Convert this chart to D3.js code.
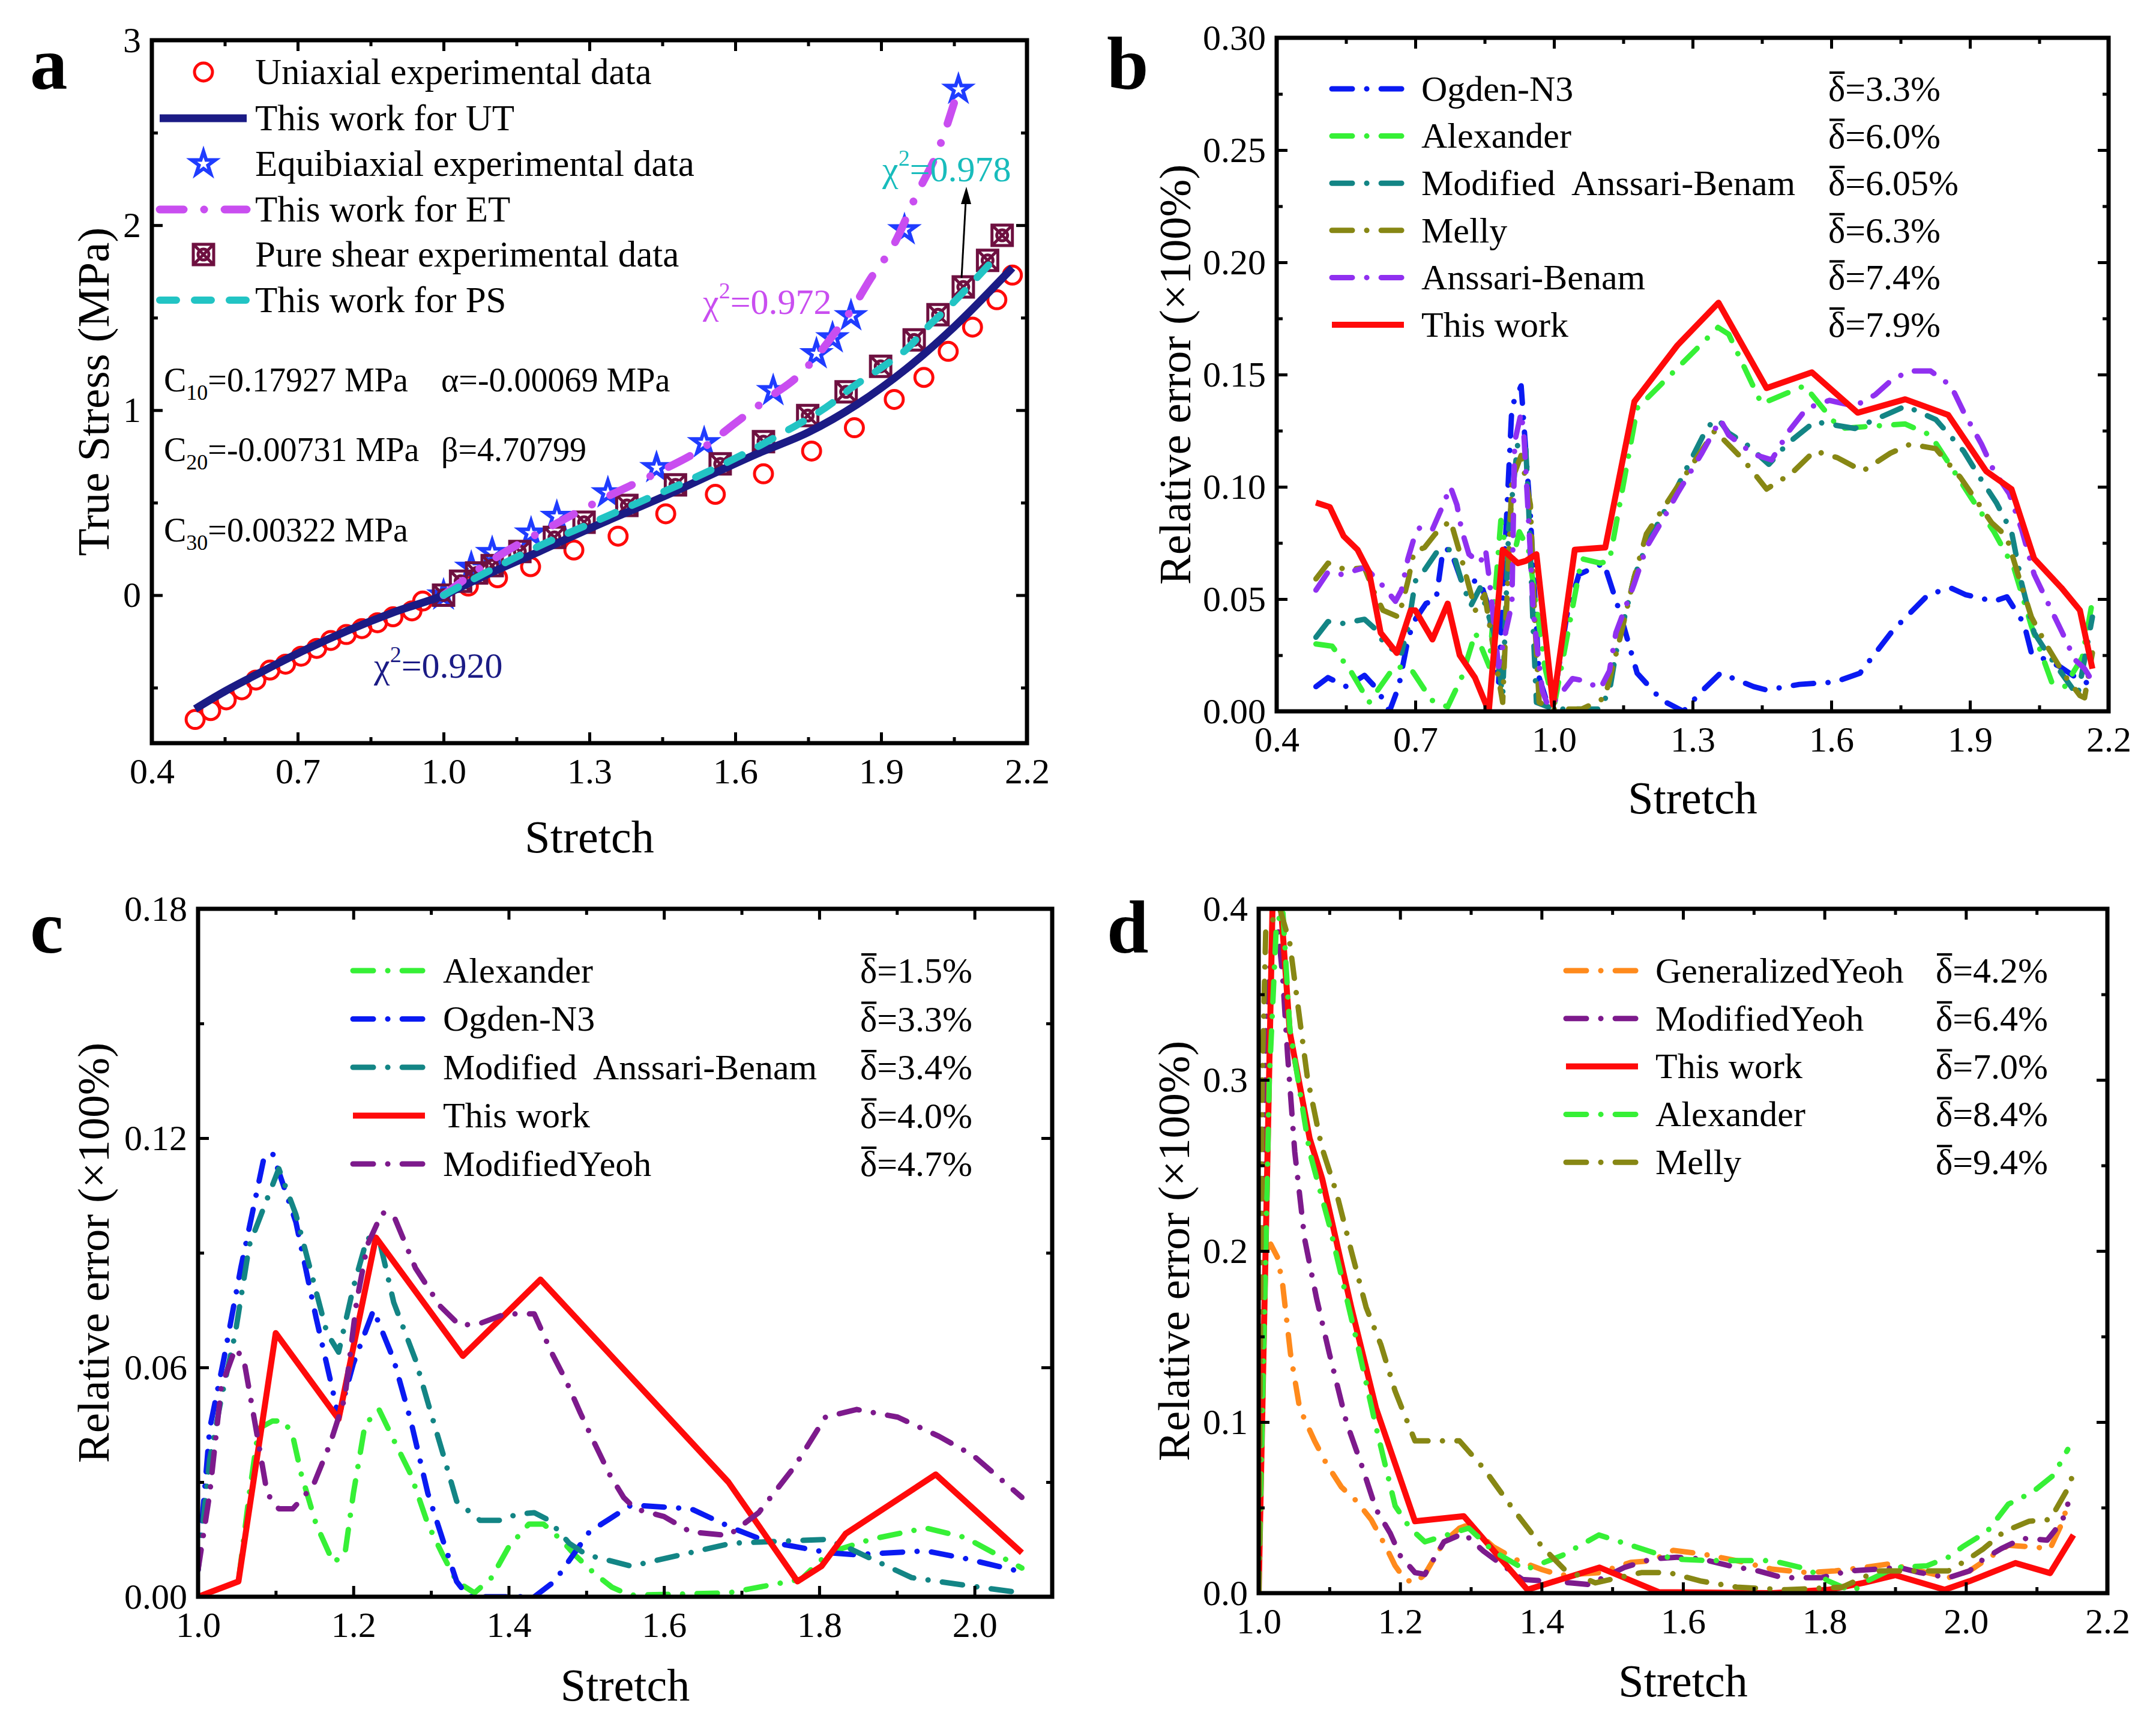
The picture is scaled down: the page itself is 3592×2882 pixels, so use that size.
<!DOCTYPE html>
<html>
<head>
<meta charset="utf-8">
<script src="https://cdn.jsdelivr.net/npm/d3@7"></script>
<style>
  body { margin: 0; background: #fff; }
  svg text { font-family: "Liberation Serif", "Times New Roman", serif; white-space: pre; }
</style>
</head>
<body>
<svg id="chart" width="3592" height="2882"></svg>
<script>
// ---------- panel a : stretch vs true stress (MPa)
const utExp = [[0.489,-0.672],[0.521,-0.624],[0.553,-0.566],[0.585,-0.512],[0.614,-0.459],[0.643,-0.405],[0.675,-0.373],[0.707,-0.330],[0.739,-0.288],[0.768,-0.245],[0.800,-0.213],[0.832,-0.181],[0.864,-0.149],[0.896,-0.117],[0.935,-0.085],[0.957,-0.032],[1.051,0.049],[1.111,0.094],[1.179,0.154],[1.268,0.244],[1.359,0.319],[1.457,0.44],[1.559,0.545],[1.658,0.656],[1.757,0.779],[1.845,0.905],[1.927,1.058],[1.988,1.177],[2.038,1.318],[2.088,1.449],[2.138,1.597],[2.170,1.73]];
const utFit = [[0.489,-0.615],[0.55,-0.52],[0.60,-0.45],[0.70,-0.315],[0.80,-0.195],[0.90,-0.09],[1.0,0.0],[1.08,0.10],[1.20,0.24],[1.30,0.36],[1.45,0.53],[1.65,0.77],[1.75,0.88],[1.85,1.03],[1.95,1.22],[2.05,1.45],[2.17,1.77]];
const etExp = [[1.0,0.0],[1.057,0.15],[1.10,0.23],[1.18,0.335],[1.233,0.425],[1.338,0.553],[1.438,0.689],[1.536,0.824],[1.678,1.105],[1.767,1.305],[1.800,1.391],[1.838,1.51],[1.948,1.975],[2.059,2.734]];
const etFit = [[1.0,0.0],[1.1,0.19],[1.22,0.37],[1.335,0.53],[1.438,0.66],[1.536,0.80],[1.60,0.93],[1.676,1.08],[1.723,1.17],[1.767,1.29],[1.804,1.415],[1.841,1.55],[1.878,1.71],[1.927,1.90],[1.972,2.16],[2.018,2.41],[2.05,2.66]];
const psExp = [[1.0,0.0],[1.035,0.075],[1.068,0.12],[1.10,0.16],[1.157,0.236],[1.228,0.312],[1.289,0.394],[1.377,0.485],[1.477,0.596],[1.569,0.71],[1.658,0.83],[1.749,0.971],[1.828,1.099],[1.899,1.237],[1.968,1.38],[2.017,1.516],[2.069,1.666],[2.119,1.81],[2.149,1.945]];
const psFit = [[1.0,0.0],[1.1,0.14],[1.2,0.27],[1.3,0.385],[1.4,0.50],[1.5,0.615],[1.6,0.74],[1.7,0.88],[1.8,1.04],[1.837,1.117],[1.894,1.218],[1.952,1.329],[2.001,1.464],[2.042,1.565],[2.083,1.677],[2.13,1.81]];
const aLegend = ['Uniaxial experimental data','This work for UT','Equibiaxial experimental data','This work for ET','Pure shear experimental data','This work for PS'];

// ---------- panel b : relative error, stretch 0.4 - 2.2
const bOgden = [[0.485,0.011],[0.511,0.015],[0.551,0.011],[0.59,0.016],[0.617,0.010],[0.644,0.0],[0.664,0.011],[0.684,0.032],[0.697,0.040],[0.723,0.048],[0.745,0.050],[0.76,0.072],[0.776,0.072],[0.80,0.058],[0.84,0.058],[0.856,0.048],[0.88,0.012],[0.909,0.136],[0.929,0.145],[0.949,0.087],[0.968,0.015],[0.985,0.004],[1.0,0.006],[1.028,0.043],[1.054,0.061],[1.108,0.066],[1.141,0.045],[1.18,0.017],[1.233,0.005],[1.28,0.0],[1.32,0.009],[1.36,0.017],[1.432,0.011],[1.46,0.0095],[1.531,0.012],[1.607,0.013],[1.662,0.017],[1.733,0.036],[1.81,0.052],[1.858,0.055],[1.89,0.052],[1.952,0.049],[1.98,0.051],[2.017,0.039],[2.033,0.026],[2.094,0.020],[2.13,0.015],[2.16,0.012],[2.177,0.012]];
const bAlexander = [[0.485,0.030],[0.52,0.029],[0.56,0.018],[0.60,0.004],[0.655,0.020],[0.69,0.019],[0.735,0.005],[0.77,0.002],[0.80,0.015],[0.83,0.035],[0.86,0.020],[0.885,0.085],[0.905,0.062],[0.925,0.080],[0.945,0.072],[0.98,0.020],[1.0,0.002],[1.06,0.068],[1.10,0.066],[1.12,0.067],[1.18,0.135],[1.355,0.171],[1.378,0.168],[1.449,0.137],[1.542,0.145],[1.618,0.126],[1.76,0.128],[1.815,0.123],[1.903,0.095],[1.952,0.080],[1.995,0.064],[2.033,0.038],[2.077,0.013],[2.105,0.011],[2.143,0.024],[2.165,0.049]];
const bModAB = [[0.485,0.033],[0.511,0.040],[0.538,0.039],[0.59,0.041],[0.617,0.036],[0.635,0.029],[0.67,0.026],[0.684,0.037],[0.70,0.058],[0.72,0.063],[0.75,0.072],[0.78,0.072],[0.80,0.058],[0.82,0.047],[0.84,0.055],[0.87,0.035],[0.889,0.007],[0.902,0.081],[0.922,0.12],[0.939,0.117],[0.945,0.092],[0.955,0.037],[0.962,0.004],[1.0,0.001],[1.05,0.001],[1.10,0.001],[1.121,0.010],[1.134,0.026],[1.174,0.060],[1.20,0.074],[1.267,0.10],[1.333,0.127],[1.356,0.130],[1.378,0.124],[1.416,0.119],[1.465,0.110],[1.504,0.119],[1.564,0.129],[1.651,0.126],[1.761,0.136],[1.826,0.130],[1.886,0.116],[1.925,0.103],[1.957,0.093],[1.99,0.080],[2.012,0.057],[2.039,0.035],[2.067,0.026],[2.105,0.015],[2.133,0.007],[2.148,0.023],[2.165,0.042]];
const bMelly = [[0.485,0.059],[0.511,0.066],[0.55,0.063],[0.59,0.064],[0.611,0.053],[0.63,0.045],[0.664,0.042],[0.684,0.058],[0.697,0.071],[0.72,0.073],[0.743,0.079],[0.776,0.085],[0.80,0.068],[0.83,0.045],[0.85,0.052],[0.869,0.028],[0.889,0.004],[0.909,0.103],[0.929,0.114],[0.949,0.092],[0.958,0.042],[0.968,0.004],[1.0,0.001],[1.06,0.001],[1.11,0.006],[1.141,0.031],[1.174,0.060],[1.20,0.079],[1.267,0.10],[1.348,0.125],[1.41,0.112],[1.46,0.099],[1.514,0.106],[1.564,0.116],[1.613,0.113],[1.668,0.107],[1.728,0.115],[1.771,0.119],[1.826,0.117],[1.88,0.104],[1.947,0.084],[1.979,0.078],[2.01,0.057],[2.033,0.042],[2.067,0.029],[2.105,0.016],[2.138,0.007],[2.148,0.006],[2.165,0.026]];
const bAB = [[0.485,0.054],[0.511,0.062],[0.54,0.061],[0.59,0.064],[0.617,0.059],[0.657,0.049],[0.67,0.054],[0.684,0.068],[0.697,0.077],[0.71,0.082],[0.737,0.081],[0.756,0.090],[0.776,0.100],[0.79,0.092],[0.80,0.081],[0.816,0.070],[0.84,0.066],[0.852,0.072],[0.86,0.059],[0.88,0.020],[0.895,0.035],[0.909,0.048],[0.915,0.12],[0.929,0.133],[0.935,0.123],[0.949,0.07],[0.955,0.045],[0.965,0.026],[0.975,0.009],[0.988,0.002],[1.008,0.006],[1.04,0.0146],[1.068,0.0135],[1.10,0.010],[1.12,0.018],[1.134,0.035],[1.174,0.057],[1.20,0.073],[1.24,0.087],[1.267,0.097],[1.32,0.115],[1.36,0.130],[1.378,0.123],[1.432,0.1145],[1.471,0.112],[1.509,0.125],[1.547,0.135],[1.596,0.1385],[1.651,0.136],[1.695,0.141],[1.733,0.148],[1.771,0.1516],[1.815,0.1516],[1.859,0.145],[1.886,0.1335],[1.925,0.119],[1.952,0.107],[1.985,0.097],[2.012,0.081],[2.039,0.061],[2.067,0.049],[2.10,0.035],[2.127,0.023],[2.148,0.019],[2.16,0.015]];
const bThisWork = [[0.485,0.093],[0.515,0.091],[0.545,0.078],[0.575,0.072],[0.600,0.062],[0.625,0.035],[0.660,0.026],[0.690,0.045],[0.700,0.045],[0.737,0.032],[0.770,0.048],[0.796,0.025],[0.829,0.015],[0.859,0.000],[0.889,0.072],[0.922,0.066],[0.939,0.067],[0.962,0.070],[0.998,0.003],[1.045,0.072],[1.111,0.073],[1.174,0.138],[1.267,0.163],[1.356,0.182],[1.46,0.144],[1.558,0.151],[1.657,0.133],[1.760,0.139],[1.853,0.132],[1.935,0.107],[1.990,0.099],[2.039,0.068],[2.098,0.055],[2.138,0.045],[2.165,0.019]];
const bNames = ['Ogden-N3','Alexander','Modified  Anssari-Benam','Melly','Anssari-Benam','This work'];
const bDelta = ['3.3%','6.0%','6.05%','6.3%','7.4%','7.9%'];
const bSeries = [bOgden, bAlexander, bModAB, bMelly, bAB, bThisWork];

// ---------- panel c : relative error, stretch 1.0 - 2.1
const cAlexander = [[1.0,0],[1.052,0.004],[1.066,0.027],[1.078,0.044],[1.096,0.046],[1.111,0.046],[1.122,0.042],[1.133,0.032],[1.152,0.019],[1.174,0.009],[1.189,0.011],[1.20,0.027],[1.215,0.045],[1.233,0.049],[1.252,0.041],[1.274,0.032],[1.296,0.019],[1.315,0.011],[1.333,0.004],[1.356,0.001],[1.378,0.005],[1.40,0.013],[1.426,0.019],[1.445,0.019],[1.467,0.015],[1.485,0.011],[1.511,0.006],[1.533,0.0025],[1.556,0.0004],[1.683,0.001],[1.777,0.0046],[1.812,0.0115],[1.866,0.015],[1.937,0.018],[1.988,0.0155],[2.061,0.0075]];
const cOgden = [[1.0,0.007],[1.015,0.044],[1.033,0.062],[1.055,0.086],[1.085,0.115],[1.096,0.116],[1.126,0.098],[1.152,0.073],[1.17,0.057],[1.181,0.047],[1.20,0.061],[1.226,0.075],[1.252,0.062],[1.274,0.046],[1.296,0.027],[1.315,0.015],[1.333,0.004],[1.348,0],[1.433,0],[1.459,0.004],[1.504,0.017],[1.558,0.024],[1.635,0.023],[1.688,0.018],[1.732,0.0145],[1.812,0.0115],[1.846,0.011],[1.937,0.012],[1.988,0.010],[2.061,0.0065]];
const cModAB = [[1.0,0.007],[1.015,0.036],[1.03,0.052],[1.048,0.069],[1.066,0.092],[1.104,0.112],[1.126,0.10],[1.148,0.083],[1.166,0.069],[1.181,0.064],[1.20,0.081],[1.218,0.094],[1.235,0.092],[1.252,0.077],[1.28,0.062],[1.30,0.048],[1.316,0.037],[1.333,0.025],[1.363,0.020],[1.389,0.020],[1.411,0.0216],[1.433,0.022],[1.452,0.020],[1.478,0.014],[1.50,0.011],[1.558,0.008],[1.687,0.014],[1.808,0.015],[1.835,0.013],[1.919,0.005],[1.988,0.003],[2.061,0.001]];
const cThisWork = [[1.0,0],[1.052,0.004],[1.10,0.069],[1.181,0.0465],[1.229,0.094],[1.341,0.063],[1.441,0.083],[1.683,0.030],[1.772,0.004],[1.803,0.008],[1.834,0.0165],[1.95,0.032],[2.061,0.0115]];
const cModYeoh = [[1.0,0.007],[1.015,0.027],[1.03,0.055],[1.048,0.065],[1.059,0.062],[1.078,0.040],[1.089,0.027],[1.104,0.023],[1.122,0.023],[1.148,0.029],[1.17,0.040],[1.189,0.052],[1.204,0.077],[1.218,0.092],[1.237,0.1005],[1.252,0.0997],[1.28,0.086],[1.312,0.076],[1.337,0.071],[1.363,0.0715],[1.396,0.074],[1.433,0.074],[1.455,0.064],[1.474,0.0565],[1.4925,0.048],[1.511,0.040],[1.53,0.032],[1.548,0.026],[1.563,0.023],[1.60,0.021],[1.634,0.017],[1.683,0.016],[1.722,0.022],[1.768,0.034],[1.808,0.047],[1.848,0.049],[1.901,0.047],[1.954,0.042],[1.998,0.037],[2.061,0.026]];
const cNames = ['Alexander','Ogden-N3','Modified  Anssari-Benam','This work','ModifiedYeoh'];
const cDelta = ['1.5%','3.3%','3.4%','4.0%','4.7%'];
const cSeries = [cAlexander, cOgden, cModAB, cThisWork, cModYeoh];

// ---------- panel d : relative error, stretch 1.0 - 2.2
const dGenYeoh = [[1.0,0],[1.005,0.113],[1.01,0.20],[1.017,0.204],[1.027,0.196],[1.034,0.18],[1.045,0.14],[1.058,0.108],[1.079,0.089],[1.096,0.0755],[1.117,0.062],[1.138,0.054],[1.159,0.043],[1.18,0.027],[1.193,0.016],[1.207,0.008],[1.221,0.006],[1.235,0.011],[1.262,0.03],[1.284,0.038],[1.297,0.040],[1.332,0.027],[1.367,0.019],[1.401,0.0137],[1.427,0.0105],[1.482,0.012],[1.526,0.018],[1.556,0.019],[1.586,0.025],[1.626,0.023],[1.676,0.019],[1.726,0.014],[1.776,0.012],[1.815,0.013],[1.855,0.015],[1.89,0.017],[1.925,0.014],[1.975,0.009],[2.005,0.013],[2.03,0.020],[2.06,0.028],[2.094,0.027],[2.119,0.026],[2.136,0.041],[2.144,0.052]];
const dModYeoh = [[1.0,0],[1.006,0.194],[1.01,0.33],[1.02,0.387],[1.027,0.39],[1.034,0.36],[1.041,0.314],[1.051,0.258],[1.065,0.207],[1.082,0.172],[1.10,0.14],[1.124,0.10],[1.145,0.0755],[1.166,0.049],[1.186,0.035],[1.20,0.022],[1.221,0.012],[1.235,0.011],[1.262,0.030],[1.29,0.035],[1.318,0.0245],[1.346,0.016],[1.373,0.008],[1.442,0.006],[1.467,0.005],[1.517,0.015],[1.556,0.020],[1.591,0.021],[1.626,0.020],[1.666,0.016],[1.706,0.013],[1.741,0.009],[1.795,0.009],[1.835,0.013],[1.875,0.014],[1.905,0.015],[1.935,0.012],[1.975,0.009],[2.005,0.013],[2.025,0.020],[2.05,0.026],[2.08,0.032],[2.115,0.031],[2.136,0.042],[2.144,0.052]];
const dThisWork = [[1.0,0],[1.02,0.41],[1.03,0.41],[1.044,0.328],[1.072,0.266],[1.09,0.242],[1.131,0.167],[1.166,0.108],[1.221,0.042],[1.29,0.045],[1.38,0.002],[1.427,0.008],[1.482,0.015],[1.566,0.0006],[1.726,0.0],[1.806,0.002],[1.855,0.006],[1.90,0.0105],[1.97,0.002],[2.005,0.007],[2.07,0.0176],[2.119,0.0117],[2.152,0.034]];
const dAlexander = [[1.0,0],[1.015,0.30],[1.025,0.39],[1.034,0.40],[1.044,0.33],[1.072,0.258],[1.10,0.215],[1.14,0.145],[1.166,0.097],[1.193,0.051],[1.214,0.038],[1.235,0.030],[1.297,0.038],[1.332,0.0245],[1.377,0.0137],[1.429,0.022],[1.481,0.034],[1.526,0.028],[1.586,0.020],[1.636,0.019],[1.726,0.019],[1.776,0.014],[1.806,0.007],[1.84,0.001],[1.86,0.007],[1.90,0.015],[1.945,0.016],[1.975,0.021],[1.995,0.027],[2.03,0.036],[2.06,0.052],[2.094,0.059],[2.124,0.069],[2.144,0.084]];
const dMelly = [[1.0,0],[1.005,0.30],[1.01,0.387],[1.03,0.40],[1.044,0.38],[1.055,0.345],[1.069,0.301],[1.089,0.261],[1.11,0.234],[1.131,0.20],[1.152,0.167],[1.173,0.145],[1.193,0.118],[1.221,0.089],[1.249,0.089],[1.284,0.089],[1.318,0.073],[1.36,0.049],[1.401,0.027],[1.432,0.014],[1.476,0.006],[1.541,0.012],[1.58,0.012],[1.626,0.007],[1.676,0.0035],[1.746,0.002],[1.825,0.0035],[1.875,0.013],[1.925,0.013],[1.975,0.013],[2.0,0.019],[2.025,0.026],[2.054,0.036],[2.089,0.042],[2.119,0.043],[2.144,0.061],[2.152,0.070]];
const dNames = ['GeneralizedYeoh','ModifiedYeoh','This work','Alexander','Melly'];
const dDelta = ['4.2%','6.4%','7.0%','8.4%','9.4%'];
const dSeries = [dGenYeoh, dModYeoh, dThisWork, dAlexander, dMelly];

// ---------- ticks
const xTicksWide = [0.4,0.7,1.0,1.3,1.6,1.9,2.2];
const xMinorWide = [0.55,0.85,1.15,1.45,1.75,2.05];
const aYTicks = [0,1,2,3], aYMinor = [-0.5,0.5,1.5,2.5];
const bYTicks = [0,0.05,0.10,0.15,0.20,0.25,0.30], bYMinor = [0.025,0.075,0.125,0.175,0.225,0.275];
const cXTicks = [1.0,1.2,1.4,1.6,1.8,2.0], cXMinor = [1.1,1.3,1.5,1.7,1.9,2.1];
const cYTicks = [0,0.06,0.12,0.18], cYMinor = [0.03,0.09,0.15];
const dXTicks = [1.0,1.2,1.4,1.6,1.8,2.0,2.2], dXMinor = [1.1,1.3,1.5,1.7,1.9,2.1];
const dYTicks = [0,0.1,0.2,0.3,0.4], dYMinor = [0.05,0.15,0.25,0.35];

// ---------- styles
const modelColor = {
  'Ogden-N3': '#0a1af2', 'Alexander': '#36f036', 'Modified  Anssari-Benam': '#138585',
  'Melly': '#878714', 'Anssari-Benam': '#9030f0', 'This work': '#ff0a0a',
  'ModifiedYeoh': '#7d1a8c', 'GeneralizedYeoh': '#ff8a1c'
};
const DASHDOT = '34,24,0.1,24';

const svg = d3.select('#chart');
svg.append('rect').attr('width', 3592).attr('height', 2882).attr('fill', '#fff');
const defs = svg.append('defs');

function makePanel(id, box, xDomain, yDomain, ticks) {
  const x = d3.scaleLinear().domain(xDomain).range([box.left, box.right]);
  const y = d3.scaleLinear().domain(yDomain).range([box.bottom, box.top]);
  defs.append('clipPath').attr('id', 'clip-' + id).append('rect')
    .attr('x', box.left).attr('y', box.top)
    .attr('width', box.right - box.left).attr('height', box.bottom - box.top);
  const g = svg.append('g').attr('id', 'panel-' + id);
  const plot = g.append('g').attr('clip-path', 'url(#clip-' + id + ')');
  const axG = g.append('g');

  axG.append('g').attr('transform', 'translate(0,' + box.bottom + ')')
    .call(d3.axisBottom(x).tickValues(ticks.xMajor).tickSize(-18).tickPadding(24).tickFormat(d3.format('.1f')));
  axG.append('g').attr('transform', 'translate(0,' + box.bottom + ')')
    .call(d3.axisBottom(x).tickValues(ticks.xMinor).tickSize(-10).tickFormat(''));
  axG.append('g').attr('transform', 'translate(0,' + box.top + ')')
    .call(d3.axisTop(x).tickValues(ticks.xMajor).tickSize(-18).tickFormat(''));
  axG.append('g').attr('transform', 'translate(0,' + box.top + ')')
    .call(d3.axisTop(x).tickValues(ticks.xMinor).tickSize(-10).tickFormat(''));
  axG.append('g').attr('transform', 'translate(' + box.left + ',0)')
    .call(d3.axisLeft(y).tickValues(ticks.yMajor).tickSize(-18).tickPadding(18).tickFormat(d3.format(ticks.yFmt)));
  axG.append('g').attr('transform', 'translate(' + box.left + ',0)')
    .call(d3.axisLeft(y).tickValues(ticks.yMinor).tickSize(-10).tickFormat(''));
  axG.append('g').attr('transform', 'translate(' + box.right + ',0)')
    .call(d3.axisRight(y).tickValues(ticks.yMajor).tickSize(-18).tickFormat(''));
  axG.append('g').attr('transform', 'translate(' + box.right + ',0)')
    .call(d3.axisRight(y).tickValues(ticks.yMinor).tickSize(-10).tickFormat(''));
  axG.selectAll('.domain').remove();
  axG.selectAll('.tick line').attr('stroke', '#000').attr('stroke-width', 5);
  axG.selectAll('.tick text').attr('font-size', 60).attr('fill', '#000')
    .attr('font-family', '"Liberation Serif", "Times New Roman", serif');
  axG.append('rect').attr('x', box.left).attr('y', box.top)
    .attr('width', box.right - box.left).attr('height', box.bottom - box.top)
    .attr('fill', 'none').attr('stroke', '#000').attr('stroke-width', 7);

  // axis titles
  g.append('text').attr('x', (box.left + box.right) / 2).attr('y', ticks.xTitleY)
    .attr('text-anchor', 'middle').attr('font-size', 76).text('Stretch');
  g.append('text').attr('transform', 'translate(' + ticks.yTitleX + ',' + (box.top + box.bottom) / 2 + ') rotate(-90)')
    .attr('text-anchor', 'middle').attr('dy', '0.35em').attr('font-size', 75).text(ticks.yTitle);
  // panel letter
  g.append('text').attr('x', ticks.letterX).attr('y', ticks.letterY)
    .attr('font-size', 125).attr('font-weight', 'bold').text(id);
  return { x: x, y: y, g: g, plot: plot };
}

function drawLine(p, data, color, width, dash, curve) {
  p.plot.append('path').datum(data)
    .attr('fill', 'none').attr('stroke', color).attr('stroke-width', width)
    .attr('stroke-dasharray', dash || null)
    .attr('stroke-linecap', dash ? 'round' : 'butt')
    .attr('stroke-linejoin', 'round')
    .attr('d', d3.line().x(d => p.x(d[0])).y(d => p.y(d[1])).curve(curve || d3.curveLinear));
}

function deltaLabel(g, xPos, yPos, value) {
  const t = g.append('text').attr('x', xPos).attr('y', yPos).attr('font-size', 60);
  t.append('tspan').text('\u03b4');
  t.append('tspan').text('=' + value);
  const node = t.node();
  const x0 = node.getStartPositionOfChar(0).x;
  const w = node.getSubStringLength(0, 1);
  g.append('line').attr('x1', x0 + 2).attr('x2', x0 + w - 1)
    .attr('y1', yPos - 47).attr('y2', yPos - 47)
    .attr('stroke', '#000').attr('stroke-width', 4);
}

function errorLegend(p, names, deltas, lx, ly, step, tx, dx) {
  names.forEach((name, i) => {
    const yy = ly + i * step;
    const dash = name === 'This work' ? null : DASHDOT;
    p.g.append('line').attr('x1', lx).attr('x2', lx + 120).attr('y1', yy).attr('y2', yy)
      .attr('stroke', modelColor[name]).attr('stroke-width', name === 'This work' ? 10 : 9)
      .attr('stroke-dasharray', dash).attr('stroke-linecap', dash ? 'round' : 'butt');
    p.g.append('text').attr('x', tx).attr('y', yy).attr('dy', '0.33em')
      .attr('font-size', 60).text(name);
    deltaLabel(p.g, dx, yy + 20, deltas[i]);
  });
}

// =============== panel a
const pa = makePanel('a', { left: 253, right: 1711, top: 67, bottom: 1238 }, [0.4, 2.2], [-0.8, 3], {
  xMajor: xTicksWide, xMinor: xMinorWide, yMajor: aYTicks, yMinor: aYMinor, yFmt: 'd',
  xTitleY: 1420, yTitleX: 155, yTitle: 'True Stress (MPa)', letterX: 50, letterY: 148
});

const circleColor = '#ff0a0a', starColor = '#1f3cff', psColor = '#6e1040';
const utColor = '#1b1b85', etColor = '#c94ef0', psLineColor = '#22c4c4';
const starPath = d3.symbol(d3.symbolStar, 480)();
const psPath = 'M-17,-17H17V17H-17Z M-17,-17L17,17 M17,-17L-17,17 M0,-9A9,9 0 1,1 0,9A9,9 0 1,1 0,-9';

pa.plot.selectAll('circle.ut').data(utExp).enter().append('circle')
  .attr('cx', d => pa.x(d[0])).attr('cy', d => pa.y(d[1])).attr('r', 15)
  .attr('fill', 'none').attr('stroke', circleColor).attr('stroke-width', 5);
pa.plot.selectAll('path.et').data(etExp).enter().append('path')
  .attr('transform', d => 'translate(' + pa.x(d[0]) + ',' + pa.y(d[1]) + ')')
  .attr('d', starPath).attr('fill', '#fff').attr('stroke', starColor).attr('stroke-width', 6);
pa.plot.selectAll('path.ps').data(psExp).enter().append('path')
  .attr('transform', d => 'translate(' + pa.x(d[0]) + ',' + pa.y(d[1]) + ')')
  .attr('d', psPath).attr('fill', 'none').attr('stroke', psColor).attr('stroke-width', 5);

drawLine(pa, utFit, utColor, 13, null, d3.curveMonotoneX);
drawLine(pa, etFit, etColor, 13, '40,34,0.1,34', d3.curveMonotoneX);
drawLine(pa, psFit, psLineColor, 12, '28,30', d3.curveMonotoneX);

// legend a
const aRowY = [120, 197, 273, 349, 424, 500];
aLegend.forEach((label, i) => {
  const yy = aRowY[i];
  if (i === 0) {
    pa.g.append('circle').attr('cx', 339).attr('cy', yy).attr('r', 15)
      .attr('fill', 'none').attr('stroke', circleColor).attr('stroke-width', 5);
  } else if (i === 2) {
    pa.g.append('path').attr('transform', 'translate(339,' + yy + ')').attr('d', starPath)
      .attr('fill', '#fff').attr('stroke', starColor).attr('stroke-width', 6);
  } else if (i === 4) {
    pa.g.append('path').attr('transform', 'translate(339,' + yy + ')').attr('d', psPath)
      .attr('fill', 'none').attr('stroke', psColor).attr('stroke-width', 5);
  } else {
    const st = [null, [utColor, 13, null], null, [etColor, 13, '40,34,0.1,34'], null, [psLineColor, 12, '28,30']][i];
    pa.g.append('line').attr('x1', 266).attr('x2', 411).attr('y1', yy).attr('y2', yy)
      .attr('stroke', st[0]).attr('stroke-width', st[1]).attr('stroke-dasharray', st[2])
      .attr('stroke-linecap', st[2] ? 'round' : 'butt');
  }
  pa.g.append('text').attr('x', 425).attr('y', yy).attr('dy', '0.33em').attr('font-size', 61).text(label);
});

// model parameters
function paramText(g, xPos, yPos, main, sub, rest) {
  const t = g.append('text').attr('x', xPos).attr('y', yPos).attr('font-size', 56);
  t.append('tspan').text(main);
  if (sub) {
    t.append('tspan').attr('font-size', 36).attr('dy', 14).text(sub);
    t.append('tspan').attr('dy', -14).text(rest);
  }
}
paramText(pa.g, 273, 652, 'C', '10', '=0.17927 MPa');
paramText(pa.g, 273, 768, 'C', '20', '=-0.00731 MPa');
paramText(pa.g, 273, 902, 'C', '30', '=0.00322 MPa');
paramText(pa.g, 735, 652, '\u03b1=-0.00069 MPa');
paramText(pa.g, 735, 768, '\u03b2=4.70799');

function chiText(g, xPos, yPos, value, color) {
  const t = g.append('text').attr('x', xPos).attr('y', yPos).attr('font-size', 60).attr('fill', color);
  t.append('tspan').text('\u03c7');
  t.append('tspan').attr('font-size', 38).attr('dy', -26).text('2');
  t.append('tspan').attr('dy', 26).text('=' + value);
}
chiText(pa.g, 623, 1129, '0.920', utColor);
chiText(pa.g, 1171, 523, '0.972', etColor);
chiText(pa.g, 1470, 302, '0.978', '#18bcbc');
pa.g.append('line').attr('x1', 1602).attr('y1', 463).attr('x2', 1609).attr('y2', 335)
  .attr('stroke', '#000').attr('stroke-width', 3);
pa.g.append('path').attr('d', 'M1610,311 L1601,340 L1618,340 Z').attr('fill', '#000');

// =============== panel b
const pb = makePanel('b', { left: 2127, right: 3513, top: 63, bottom: 1185 }, [0.4, 2.2], [0, 0.3], {
  xMajor: xTicksWide, xMinor: xMinorWide, yMajor: bYTicks, yMinor: bYMinor, yFmt: '.2f',
  xTitleY: 1355, yTitleX: 1957, yTitle: 'Relative error (\u00d7100%)', letterX: 1844, letterY: 148
});
bSeries.forEach((s, i) => {
  const name = bNames[i];
  drawLine(pb, s, modelColor[name], name === 'This work' ? 10 : 9, name === 'This work' ? null : DASHDOT);
});
errorLegend(pb, bNames, bDelta, 2219, 148, 78.6, 2368, 3046);

// =============== panel c
const pc = makePanel('c', { left: 330, right: 1753, top: 1514, bottom: 2660 }, [1.0, 2.1], [0, 0.18], {
  xMajor: cXTicks, xMinor: cXMinor, yMajor: cYTicks, yMinor: cYMinor, yFmt: '.2f',
  xTitleY: 2833, yTitleX: 155, yTitle: 'Relative error (\u00d7100%)', letterX: 50, letterY: 1587
});
cSeries.forEach((s, i) => {
  const name = cNames[i];
  drawLine(pc, s, modelColor[name], name === 'This work' ? 10 : 9, name === 'This work' ? null : DASHDOT);
});
errorLegend(pc, cNames, cDelta, 588, 1617, 80.5, 738, 1433);

// =============== panel d
const pd = makePanel('d', { left: 2097, right: 3511, top: 1514, bottom: 2654 }, [1.0, 2.2], [0, 0.4], {
  xMajor: dXTicks, xMinor: dXMinor, yMajor: dYTicks, yMinor: dYMinor, yFmt: '.1f',
  xTitleY: 2826, yTitleX: 1955, yTitle: 'Relative error (\u00d7100%)', letterX: 1844, letterY: 1587
});
dSeries.forEach((s, i) => {
  const name = dNames[i];
  drawLine(pd, s, modelColor[name], name === 'This work' ? 10 : 9, name === 'This work' ? null : DASHDOT);
});
errorLegend(pd, dNames, dDelta, 2609, 1617, 79.8, 2758, 3225);
</script>
</body>
</html>
